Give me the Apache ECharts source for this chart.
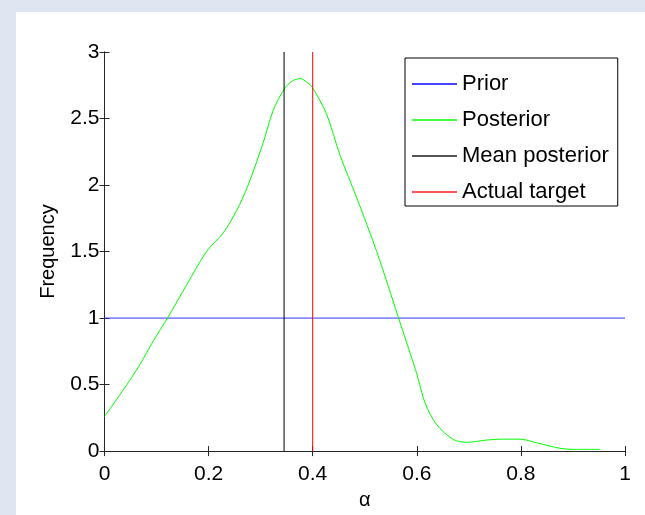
<!DOCTYPE html>
<html>
<head>
<meta charset="utf-8">
<script src="https://cdn.jsdelivr.net/npm/echarts@6/dist/echarts.min.js"></script>
<style>
html,body{margin:0;padding:0;background:#e0e6f1;}
#chart{width:645px;height:515px;}
</style>
</head>
<body>
<div id="chart"></div>
<script>
// Posterior density curve (alpha, frequency)
const posteriorX = [0, 0.036, 0.068, 0.094, 0.121, 0.158, 0.196, 0.228, 0.254, 0.276, 0.305, 0.324, 0.345, 0.36, 0.376, 0.39, 0.40, 0.427, 0.452, 0.485, 0.523, 0.565, 0.60, 0.616, 0.638, 0.67, 0.696, 0.734, 0.766, 0.798, 0.83, 0.875, 0.90, 0.952];
const posteriorY = [0.26, 0.46, 0.65, 0.83, 1.0, 1.25, 1.5, 1.64, 1.81, 2.0, 2.32, 2.56, 2.72, 2.78, 2.80, 2.77, 2.73, 2.53, 2.23, 1.9, 1.5, 1.0, 0.58, 0.36, 0.2, 0.088, 0.066, 0.083, 0.09, 0.09, 0.063, 0.021, 0.013, 0.013];
// Prior (uniform)
const priorX = [0, 1];
const priorY = [1, 1];
// Vertical markers
const meanPosterior = 0.345;
const actualTarget = 0.4;
const yRange = [0, 3];
const seriesNames = ['Prior', 'Posterior', 'Mean posterior', 'Actual target'];

const zip = (a, b) => a.map((v, i) => [v, b[i]]);
const FONT = 'Liberation Sans';
const AX = '#262626';

const chart = echarts.init(document.getElementById('chart'));
chart.setOption({
  backgroundColor: '#e0e6f1',
  animation: false,
  graphic: [{
    type: 'rect', z: -10, silent: true,
    shape: { x: 16, y: 12, width: 640, height: 520 },
    style: { fill: '#ffffff' }
  }],
  grid: { left: 104.5, right: 20, top: 52, bottom: 60.5 },
  legend: {
    data: seriesNames,
    orient: 'vertical',
    left: 405, top: 58,
    backgroundColor: '#ffffff',
    borderColor: '#000000', borderWidth: 1, borderRadius: 0,
    padding: [15, 9, 3, 7],
    itemWidth: 45, itemHeight: 2, itemGap: 14,
    icon: 'rect',
    textStyle: { fontFamily: FONT, fontSize: 22, color: '#000', lineHeight: 20 }
  },
  xAxis: [{
    type: 'value', min: 0, max: 1, interval: 0.2,
    name: 'α', nameLocation: 'middle', nameGap: 38,
    nameTextStyle: { fontFamily: FONT, fontSize: 20, color: '#000' },
    axisLine: { show: true, lineStyle: { color: AX, width: 1 } },
    axisTick: { show: true, inside: true, length: 5, lineStyle: { color: AX } },
    axisLabel: { fontFamily: FONT, fontSize: 21, color: '#000', margin: 13 },
    splitLine: { show: false }
  }, {
    type: 'value', min: 0, max: 1, interval: 0.2, position: 'top',
    axisLine: { show: true, lineStyle: { color: AX, width: 1 } },
    axisTick: { show: true, inside: true, length: 5, lineStyle: { color: AX } },
    axisLabel: { show: false }, splitLine: { show: false }
  }],
  yAxis: [{
    type: 'value', min: yRange[0], max: yRange[1], interval: 0.5,
    name: 'Frequency', nameLocation: 'middle', nameGap: 46,
    nameTextStyle: { fontFamily: FONT, fontSize: 20, color: '#000' },
    axisLine: { show: true, lineStyle: { color: AX, width: 1 } },
    axisTick: { show: true, inside: true, length: 5, lineStyle: { color: AX } },
    axisLabel: { fontFamily: FONT, fontSize: 21, color: '#000', margin: 5 },
    splitLine: { show: false }
  }, {
    type: 'value', min: yRange[0], max: yRange[1], interval: 0.5, position: 'right',
    axisLine: { show: true, lineStyle: { color: AX, width: 1 } },
    axisTick: { show: true, inside: true, length: 5, lineStyle: { color: AX } },
    axisLabel: { show: false }, splitLine: { show: false }
  }],
  series: [{
    name: seriesNames[0], type: 'line', symbol: 'none',
    data: zip(priorX, priorY),
    lineStyle: { color: '#3333ff', width: 1 }, itemStyle: { color: '#4444ff' }
  }, {
    name: seriesNames[1], type: 'line', symbol: 'none', smooth: 0.3,
    data: zip(posteriorX, posteriorY),
    lineStyle: { color: '#00ff00', width: 1 }, itemStyle: { color: '#44ff44' }
  }, {
    name: seriesNames[2], type: 'line', symbol: 'none',
    data: [[meanPosterior, yRange[0]], [meanPosterior, yRange[1]]],
    lineStyle: { color: '#000000', width: 1 }, itemStyle: { color: '#555555' }
  }, {
    name: seriesNames[3], type: 'line', symbol: 'none',
    data: [[actualTarget, yRange[0]], [actualTarget, yRange[1]]],
    lineStyle: { color: '#ff0000', width: 1 }, itemStyle: { color: '#ff5555' }
  }]
});
</script>
</body>
</html>
